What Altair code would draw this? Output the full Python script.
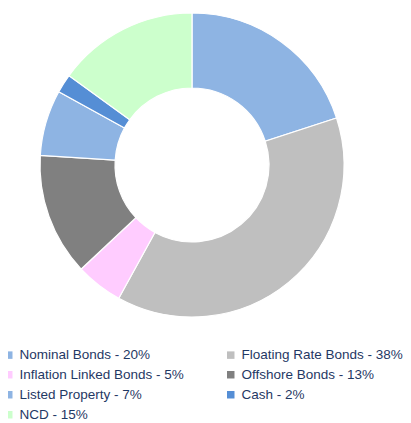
import altair as alt
import pandas as pd

categories = ["Nominal Bonds", "Floating Rate Bonds", "Inflation Linked Bonds",
              "Offshore Bonds", "Listed Property", "Cash", "NCD"]
values = [20, 38, 5, 13, 7, 2, 15]
colors = ["#8EB4E3", "#BFBFBF", "#FFCCFF", "#808080", "#8EB4E3", "#558ED5", "#CCFFCC"]

labels = [f"{c} - {v}%" for c, v in zip(categories, values)]
df = pd.DataFrame({"label": labels, "value": values, "order": list(range(len(values)))})

chart = alt.Chart(df).mark_arc(
    outerRadius=152, innerRadius=77, stroke="white", strokeWidth=1.2
).encode(
    theta=alt.Theta("value:Q", stack=True),
    order=alt.Order("order:Q"),
    x=alt.value(184),
    y=alt.value(157),
    color=alt.Color(
        "label:N",
        sort=labels,
        scale=alt.Scale(domain=labels, range=colors),
        legend=alt.Legend(
            title=None,
            orient="none",
            direction="horizontal",
            legendX=-6,
            legendY=340,
            padding=0,
            columns=2,
            columnPadding=40,
            rowPadding=5,
            symbolType="square",
            symbolSize=56,
            symbolStrokeWidth=0,
            labelFont="Liberation Sans",
            labelFontSize=13.5,
            labelColor="#1F3864",
            labelOffset=4,
            labelLimit=300,
        ),
    ),
).properties(
    width=395, height=415, autosize=alt.AutoSizeParams(type="none"), padding=0
).configure_view(stroke=None)

chart.save("out.html", embed_options={"renderer": "svg", "actions": False})
